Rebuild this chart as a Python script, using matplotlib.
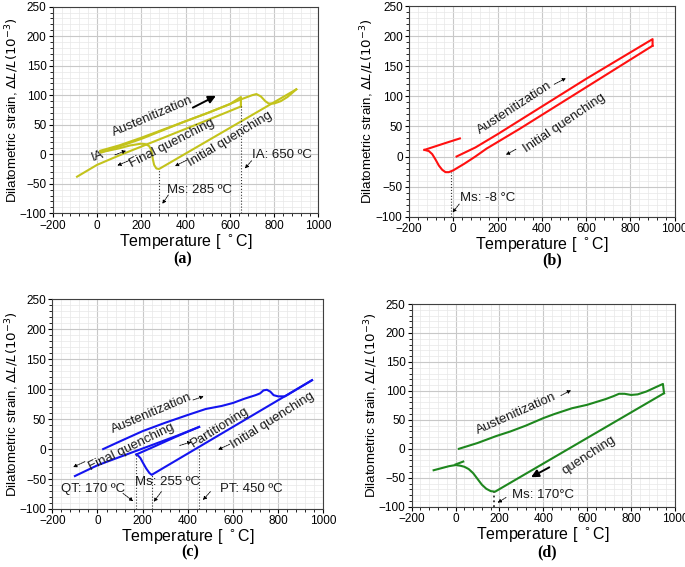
import matplotlib
matplotlib.use("Agg")
import matplotlib.pyplot as plt
from matplotlib.ticker import AutoMinorLocator

plt.rcParams['font.family'] = ['Liberation Sans', 'DejaVu Sans']
plt.rcParams['mathtext.fontset'] = 'dejavusans'

# ---------------- data ----------------
x_ticks = [-200, 0, 200, 400, 600, 800, 1000]
y_ticks = [-100, -50, 0, 50, 100, 150, 200, 250]

# (a) intercritical annealing
a_heat_T = [20, 100, 200, 300, 400, 500, 600, 650, 700, 720, 740, 760, 775, 800, 830, 860, 900]
a_heat_v = [3, 13, 26, 41, 56, 70, 85, 93, 100, 102, 98, 90, 86, 86, 90, 97, 110]
a_q1_T = [900, 280, 268, 258, 252, 248, 243, 235, 220, 200, 150, 100, 50, 15]
a_q1_v = [110, -25, -24, -18, -8, 2, 9, 14, 17, 18, 15, 10, 6, 4]
a_ia_T = [15, 100, 200, 300, 400, 500, 600, 650, 650]
a_ia_v = [6, 15, 28, 42, 56, 70, 85, 97, 81]
a_q2_T = [650, 500, 400, 300, 200, 100, 0, -90]
a_q2_v = [81, 58, 43, 28, 13, -2, -18, -38]
a_ms_T, a_ms_v = 280, -25
a_ia_T0, a_ia_top = 650, 81

# (b)
b_heat_T = [15, 100, 200, 300, 400, 500, 600, 700, 800, 900, 900]
b_heat_v = [0, 15, 37, 60, 83, 106, 129, 151, 173, 195, 184]
b_q_T = [900, 800, 700, 600, 500, 400, 300, 200, 150, 100, 50, 0, -20, -35, -50, -65, -80, -95, -110, -130]
b_q_v = [184, 161, 138, 115, 92, 69, 46, 24, 13, 0, -12, -23, -26, -26, -22, -15, -5, 4, 9, 11]
b_re_T = [-130, -80, -30, 30]
b_re_v = [11, 17, 23, 30]
b_ms_T, b_ms_v = -8, -26

# (c) Q&P
c_heat_T = [25, 100, 200, 300, 400, 480, 550, 600, 650, 700, 720, 735, 750, 765, 780, 800, 830, 870, 950]
c_heat_v = [0, 13, 30, 44, 57, 67, 72, 77, 84, 90, 93, 98, 99, 96, 90, 88, 88, 97, 115]
c_q1_T = [950, 240, 230, 215, 200, 190, 180, 172]
c_q1_v = [115, -43, -40, -32, -22, -15, -11, -9]
c_pt_T = [172, 250, 350, 450]
c_pt_v = [-9, 4, 21, 37]
c_q2_T = [450, 350, 250, 150, 50, 0, -50, -100]
c_q2_v = [37, 22, 8, -6, -20, -27, -36, -45]
c_qt_mark, c_qt_markv = 170, -9
c_ms_mark, c_ms_markv = 240, -43
c_pt_mark, c_pt_markv = 450, 4

# (d)
d_heat_T = [15, 100, 185, 250, 320, 400, 450, 530, 600, 685, 720, 745, 770, 800, 830, 870, 910, 945, 950]
d_heat_v = [0, 10, 22, 30, 40, 53, 60, 70, 76, 86, 91, 95, 95, 93, 94, 99, 106, 112, 96]
d_q_T = [950, 180, 160, 140, 120, 100, 80, 60, 40, 20, 0, -30, -60, -100]
d_q_v = [96, -74, -73, -69, -62, -52, -42, -35, -31, -29, -28, -30, -33, -37]
d_re_T = [0, 35]
d_re_v = [-27, -22]
d_ms_T, d_ms_v = 175, -74

col_a = '#c3c31c'
col_b = '#ff1010'
col_c = '#1414f0'
col_d = '#1e871e'

# ---------------- figure ----------------
fig = plt.figure(figsize=(6.85, 5.67), dpi=100)
axa = fig.add_axes([0.0769, 0.6238, 0.388, 0.3644])
axb = fig.add_axes([0.597, 0.6178, 0.388, 0.3716])
axc = fig.add_axes([0.0764, 0.1023, 0.3956, 0.3698])
axd = fig.add_axes([0.601, 0.1063, 0.3844, 0.3575])


def style(ax, ylab_x):
    ax.set_xlim(-200, 1000)
    ax.set_ylim(-100, 250)
    ax.set_xticks(x_ticks)
    ax.set_yticks(y_ticks)
    ax.xaxis.set_minor_locator(AutoMinorLocator(5))
    ax.yaxis.set_minor_locator(AutoMinorLocator(5))
    ax.grid(which='major', color='#c8c8c8', lw=0.8)
    ax.grid(which='minor', color='#e8e8e8', lw=0.5)
    ax.set_axisbelow(True)
    ax.tick_params(which='major', length=3, width=0.8, labelsize=8.5, direction='out', pad=1.5)
    ax.tick_params(which='minor', length=2, width=0.6, direction='out')
    for s in ax.spines.values():
        s.set_color('#404040')
        s.set_linewidth(0.8)
    ax.set_xlabel('Temperature [ $^\\circ$C]', fontsize=11.5, labelpad=0)
    ax.set_ylabel(r'Dilatometric strain, $\Delta L/L(10^{-3})$', fontsize=9.6)
    ax.yaxis.set_label_coords(ylab_x, 0.5)


def arrow(ax, x0, y0, x1, y1, heavy=False):
    if heavy:
        props = dict(arrowstyle='-|>', lw=1.4, color='k', mutation_scale=11, shrinkA=0, shrinkB=0)
    else:
        props = dict(arrowstyle='-|>', lw=0.6, ls=(0, (2, 1)), color='k', mutation_scale=5, shrinkA=0, shrinkB=0)
    ax.annotate('', xy=(x1, y1), xytext=(x0, y0), arrowprops=props)


def txt(ax, x, y, s, rot=0):
    ax.text(x, y, s, fontsize=9.5, rotation=rot, ha='center', va='center', rotation_mode='anchor', color='#1a1a1a')


def vdot(ax, x, ytop, lw=0.8):
    ax.plot([x, x], [-100, ytop], ls=':', color='#333333', lw=lw)


lw = 1.5
# (a)
style(axa, -0.118)
axa.plot(a_heat_T, a_heat_v, color=col_a, lw=lw)
axa.plot(a_q1_T, a_q1_v, color=col_a, lw=lw)
axa.plot(a_ia_T, a_ia_v, color=col_a, lw=lw)
axa.plot(a_q2_T, a_q2_v, color=col_a, lw=lw)
vdot(axa, a_ms_T, a_ms_v)
vdot(axa, a_ia_T0, a_ia_top)
txt(axa, 251, 65, 'Austenitization', 23)
txt(axa, 337, 18, 'Final quenching', 27)
txt(axa, 600, 25, 'Initial quenching', 31)
txt(axa, 3, -3, 'IA', 20)
txt(axa, 834, -1, 'IA: 650 ºC')
txt(axa, 465, -60, 'Ms: 285 ºC')
arrow(axa, 433, 79, 537, 99, heavy=True)
arrow(axa, 81, -1, 131, 6)
arrow(axa, 149, -10, 92, -19)
arrow(axa, 405, -10, 352, -20)
arrow(axa, 322, -69, 295, -84)
arrow(axa, 698, -11, 668, -24)

# (b)
style(axb, -0.123)
axb.plot(b_heat_T, b_heat_v, color=col_b, lw=lw)
axb.plot(b_q_T, b_q_v, color=col_b, lw=lw)
axb.plot(b_re_T, b_re_v, color=col_b, lw=lw)
vdot(axb, b_ms_T, b_ms_v)
txt(axb, 275, 80, 'Austenitization', 33)
txt(axb, 501, 56, 'Initial quenching', 34)
txt(axb, 155, -69, 'Ms: -8 °C')
arrow(axb, 456, 120, 509, 130)
arrow(axb, 283, 12, 238, 3)
arrow(axb, 27, -79, -3, -93)

# (c)
style(axc, -0.115)
axc.plot(c_heat_T, c_heat_v, color=col_c, lw=lw)
axc.plot(c_q1_T, c_q1_v, color=col_c, lw=lw)
axc.plot(c_pt_T, c_pt_v, color=col_c, lw=lw)
axc.plot(c_q2_T, c_q2_v, color=col_c, lw=lw)
vdot(axc, c_qt_mark, c_qt_markv)
vdot(axc, c_ms_mark, c_ms_markv)
vdot(axc, c_pt_mark, c_pt_markv)
txt(axc, 239, 59, 'Austenitization', 23)
txt(axc, 150, 3, 'Final quenching', 26)
txt(axc, 541, 37, 'Partitioning', 32)
txt(axc, 777, 48, 'Initial quenching', 32)
txt(axc, -19, -66, 'QT: 170 ºC')
txt(axc, 312, -55, 'Ms: 255 ºC')
txt(axc, 681, -66, 'PT: 450 ºC')
arrow(axc, 423, 82, 470, 88)
arrow(axc, -56, -21, -108, -30)
arrow(axc, 364, 6, 416, 12)
arrow(axc, 585, 8, 534, -1)
arrow(axc, 113, -74, 158, -87)
arrow(axc, 283, -71, 249, -88)
arrow(axc, 500, -71, 467, -85)

# (d)
style(axd, -0.12)
axd.plot(d_heat_T, d_heat_v, color=col_d, lw=lw)
axd.plot(d_q_T, d_q_v, color=col_d, lw=lw)
axd.plot(d_re_T, d_re_v, color=col_d, lw=lw)
vdot(axd, d_ms_T, d_ms_v, lw=1.3)
txt(axd, 276, 60, 'Austenitization', 24)
txt(axd, 609, -12, 'quenching', 33)
txt(axd, 397, -80, 'Ms: 170°C')
arrow(axd, 480, 92, 526, 101)
arrow(axd, 427, -32, 344, -49, heavy=True)
arrow(axd, 230, -84, 192, -93)

# panel labels
for x, y, s in [(0.267, 0.543, '(a)'), (0.806, 0.540, '(b)'), (0.277, 0.025, '(c)'), (0.799, 0.025, '(d)')]:
    fig.text(x, y, s, fontsize=11.5, fontweight='bold', family='Liberation Serif', ha='center', va='center')

fig.savefig('out.png', dpi=100)
